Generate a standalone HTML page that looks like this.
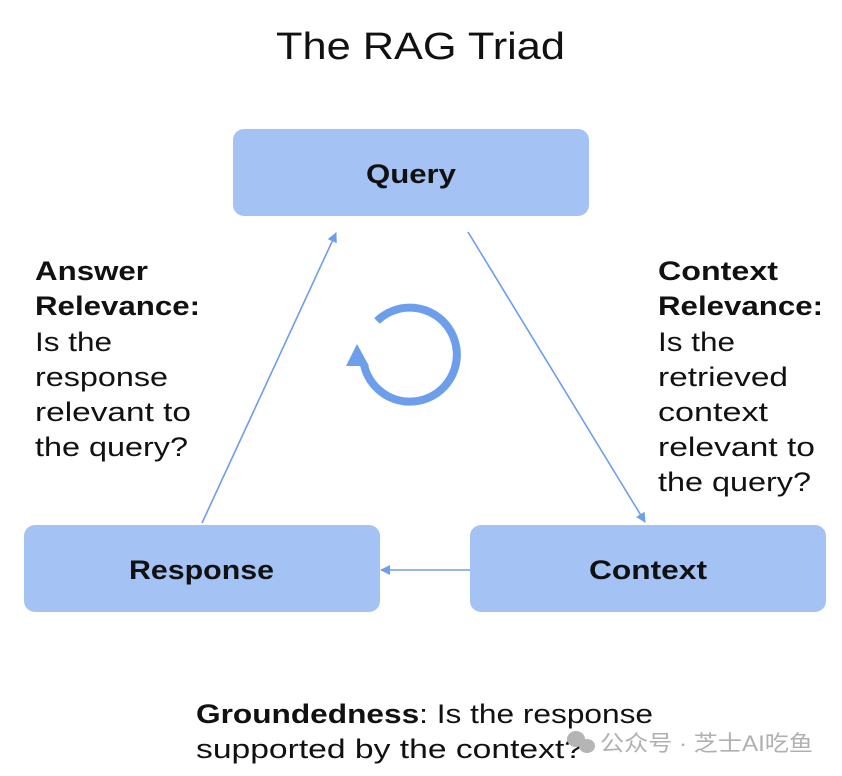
<!DOCTYPE html>
<html><head><meta charset="utf-8"><style>
html,body{margin:0;padding:0;background:#fff;}
svg{display:block;}
text{font-family:"Liberation Sans","Noto Sans CJK SC",sans-serif;fill:#111;}
</style></head><body>
<svg width="842" height="776" viewBox="0 0 842 776" xmlns="http://www.w3.org/2000/svg">
<defs>
<marker id="ah" markerWidth="10" markerHeight="10" refX="9" refY="5" orient="auto" markerUnits="userSpaceOnUse">
<path d="M0,0 L10,5 L0,10 Z" fill="#6d9eeb"/>
</marker>
</defs>
<text x="276" y="59" font-size="38" textLength="289" lengthAdjust="spacingAndGlyphs">The RAG Triad</text>
<rect x="233" y="129" width="356" height="87" rx="11" fill="#a4c2f4"/>
<rect x="24" y="525" width="356" height="87" rx="11" fill="#a4c2f4"/>
<rect x="470" y="525" width="356" height="87" rx="11" fill="#a4c2f4"/>
<text x="366" y="183" font-size="27" font-weight="bold" textLength="90" lengthAdjust="spacingAndGlyphs">Query</text>
<text x="129" y="579" font-size="27" font-weight="bold" textLength="145" lengthAdjust="spacingAndGlyphs">Response</text>
<text x="589" y="579" font-size="27" font-weight="bold" textLength="118" lengthAdjust="spacingAndGlyphs">Context</text>
<line x1="468" y1="232" x2="645" y2="522" stroke="#6d9eeb" stroke-width="1.6" marker-end="url(#ah)"/>
<line x1="202" y1="523" x2="336" y2="233" stroke="#6d9eeb" stroke-width="1.6" marker-end="url(#ah)"/>
<line x1="470" y1="570" x2="381" y2="570" stroke="#6d9eeb" stroke-width="1.6" marker-end="url(#ah)"/>
<path d="M377,321 A47,47 0 1 1 364,365" fill="none" stroke="#6d9eeb" stroke-width="8"/>
<path d="M357,344 L346,366 L369,366 Z" fill="#6d9eeb"/>
<g font-size="27" lengthAdjust="spacingAndGlyphs">
<text x="35" y="280" font-weight="bold" textLength="113" lengthAdjust="spacingAndGlyphs">Answer</text>
<text x="35" y="315" font-weight="bold" textLength="165" lengthAdjust="spacingAndGlyphs">Relevance:</text>
<text x="35" y="351" textLength="77" lengthAdjust="spacingAndGlyphs">Is the</text>
<text x="35" y="386" textLength="133" lengthAdjust="spacingAndGlyphs">response</text>
<text x="35" y="421" textLength="156" lengthAdjust="spacingAndGlyphs">relevant to</text>
<text x="35" y="456" textLength="153" lengthAdjust="spacingAndGlyphs">the query?</text>
<text x="658" y="280" font-weight="bold" textLength="120" lengthAdjust="spacingAndGlyphs">Context</text>
<text x="658" y="315" font-weight="bold" textLength="165" lengthAdjust="spacingAndGlyphs">Relevance:</text>
<text x="658" y="351" textLength="77" lengthAdjust="spacingAndGlyphs">Is the</text>
<text x="658" y="386" textLength="130" lengthAdjust="spacingAndGlyphs">retrieved</text>
<text x="658" y="421" textLength="110" lengthAdjust="spacingAndGlyphs">context</text>
<text x="658" y="456" textLength="157" lengthAdjust="spacingAndGlyphs">relevant to</text>
<text x="658" y="491" textLength="153" lengthAdjust="spacingAndGlyphs">the query?</text>
<text x="196" y="723" textLength="457" lengthAdjust="spacingAndGlyphs"><tspan font-weight="bold">Groundedness</tspan>: Is the response</text>
<text x="196" y="758" textLength="387" lengthAdjust="spacingAndGlyphs">supported by the context?</text>
</g>
<g fill="#b5b5b5">
<ellipse cx="576" cy="739" rx="9" ry="8"/>
<ellipse cx="587" cy="746" rx="8" ry="7"/>
</g>
<text x="600" y="751" font-size="22" textLength="213" lengthAdjust="spacingAndGlyphs" style="fill:#b0b0b0">公众号 · 芝士AI吃鱼</text>
</svg>
</body></html>
